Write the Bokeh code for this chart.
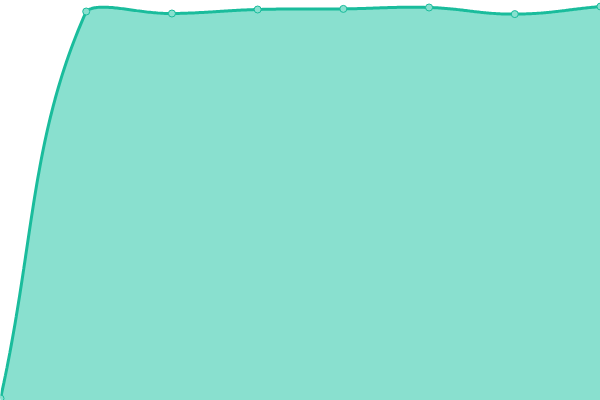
import numpy as np
from bokeh.plotting import figure
from bokeh.models import Range1d, ColumnDataSource
from bokeh.embed import file_html
from bokeh.resources import INLINE

# Data
x_vals = [0, 1, 2, 3, 4, 5, 6, 7]
y_vals = [0.5, 97.25, 96.75, 97.75, 97.9, 98.25, 96.6, 98.5]

LINE = "#1abc9c"
FILL = "#89e0cf"

W, H = 600, 400
X_MIN, X_MAX = 0, 7
Y_MIN, Y_MAX = 0, 100


def to_px(x, y):
    return (x - X_MIN) / (X_MAX - X_MIN) * W, (Y_MAX - y) / (Y_MAX - Y_MIN) * H


def to_data(px, py):
    return X_MIN + px / W * (X_MAX - X_MIN), Y_MAX - py / H * (Y_MAX - Y_MIN)


# Chart.js-style cardinal spline (tension 0.4), computed in screen space
def spline(xs, ys, t=0.4):
    pts = [to_px(a, b) for a, b in zip(xs, ys)]
    n = len(pts)
    ctrl = []
    for i in range(n):
        p0 = pts[max(i - 1, 0)]
        p1 = pts[i]
        p2 = pts[min(i + 1, n - 1)]
        d01 = np.hypot(p1[0] - p0[0], p1[1] - p0[1])
        d12 = np.hypot(p2[0] - p1[0], p2[1] - p1[1])
        tot = d01 + d12
        s01 = d01 / tot if tot else 0
        s12 = d12 / tot if tot else 0
        fa, fb = t * s01, t * s12
        prev = (p1[0] - fa * (p2[0] - p0[0]), p1[1] - fa * (p2[1] - p0[1]))
        nxt = (p1[0] + fb * (p2[0] - p0[0]), p1[1] + fb * (p2[1] - p0[1]))
        cap = lambda q: (min(max(q[0], 0), W), min(max(q[1], 0), H))
        ctrl.append((cap(prev), cap(nxt)))
    sx, sy = [], []
    tt = np.linspace(0, 1, 60)
    for i in range(n - 1):
        a = pts[i]
        b = ctrl[i][1]
        c = ctrl[i + 1][0]
        d = pts[i + 1]
        bx = ((1 - tt) ** 3) * a[0] + 3 * ((1 - tt) ** 2) * tt * b[0] + 3 * (1 - tt) * tt ** 2 * c[0] + tt ** 3 * d[0]
        by = ((1 - tt) ** 3) * a[1] + 3 * ((1 - tt) ** 2) * tt * b[1] + 3 * (1 - tt) * tt ** 2 * c[1] + tt ** 3 * d[1]
        if i > 0:
            bx, by = bx[1:], by[1:]
        sx.extend(bx)
        sy.extend(by)
    dx, dy = to_data(np.array(sx), np.array(sy))
    return dx, dy


cx, cy = spline(x_vals, y_vals)

p = figure(width=W, height=H, output_backend="svg", toolbar_location=None,
           x_range=Range1d(X_MIN, X_MAX), y_range=Range1d(Y_MIN, Y_MAX),
           min_border=0, min_border_left=0, min_border_right=0,
           min_border_top=0, min_border_bottom=0)
p.axis.visible = False
p.grid.visible = False
p.outline_line_color = None
p.background_fill_color = "white"
p.border_fill_color = "white"

curve = ColumnDataSource(dict(x=cx, y=cy, base=np.full(len(cx), Y_MIN)))
p.varea(x="x", y1="base", y2="y", source=curve, fill_color=FILL, fill_alpha=1)
p.line(x="x", y="y", source=curve, line_color=LINE, line_width=3)
p.scatter(x=x_vals, y=y_vals, size=7, marker="circle",
          fill_color=FILL, line_color=LINE, line_width=1)

open("out.html", "w").write(file_html(p, INLINE))
